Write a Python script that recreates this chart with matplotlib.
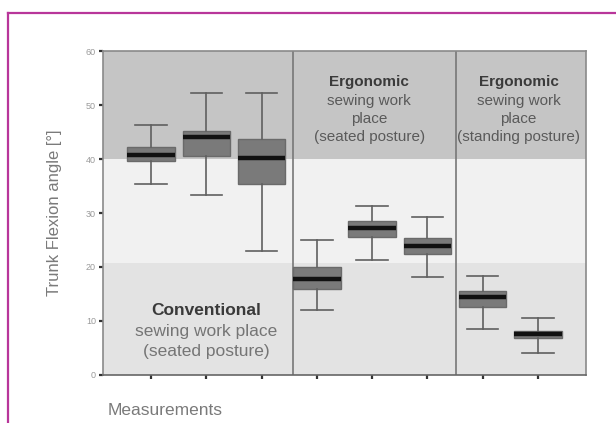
import matplotlib
matplotlib.use("Agg")
import matplotlib.pyplot as plt
from matplotlib.lines import Line2D

plt.rcParams['font.family'] = ['Liberation Sans', 'DejaVu Sans']

# Data
positions = [1, 2, 3, 4, 5, 6, 7, 8]
whisker_low = [35.4, 33.3, 23.0, 12.0, 21.3, 18.1, 8.5, 4.1]
q1 = [39.6, 40.6, 35.4, 15.9, 25.6, 22.4, 12.6, 6.8]
median = [40.7, 44.1, 40.2, 17.8, 27.2, 23.9, 14.4, 7.6]
q3 = [42.2, 45.2, 43.7, 20.0, 28.5, 25.4, 15.6, 8.1]
whisker_high = [46.3, 52.2, 52.2, 25.0, 31.3, 29.3, 18.3, 10.6]
y_ticks = [0, 10, 20, 30, 40, 50, 60]
bands = [(0, 20.8, '#e3e3e3'), (20.8, 40, '#f1f1f1'), (40, 60, '#c5c5c5')]
dividers = [3.57, 6.52]

fig = plt.figure(figsize=(6.16, 4.23), dpi=100)
ax = fig.add_axes([103/616, 1-375/423, (586-103)/616, (375-51)/423])

for lo, hi, c in bands:
    ax.axhspan(lo, hi, color=c, zorder=0, lw=0)
for d in dividers:
    ax.axvline(d, color='#777777', lw=1.2, zorder=1)

stats = []
for i in range(len(positions)):
    stats.append(dict(med=median[i], q1=q1[i], q3=q3[i],
                      whislo=whisker_low[i], whishi=whisker_high[i], fliers=[]))

ax.bxp(stats, positions=positions, widths=0.86, patch_artist=True,
       showfliers=False, manage_ticks=False,
       boxprops=dict(facecolor='#7a7a7a', edgecolor='#6a6a6a', lw=1),
       medianprops=dict(color='#111111', lw=3.2),
       whiskerprops=dict(color='#606060', lw=1.2),
       capprops=dict(color='#606060', lw=1.2),
       capwidths=0.57, zorder=3)

ax.set_xlim(0.13, 8.87)
ax.set_ylim(0, 60)
ax.set_yticks(y_ticks)
ax.set_yticklabels([str(t) for t in y_ticks], fontsize=6.5, color='#9a9a9a')
ax.set_xticks(positions)
ax.set_xticklabels([])
ax.tick_params(axis='both', direction='out', length=3, width=1.6, color='#333333', pad=2)

for s in ['left', 'right', 'top', 'bottom']:
    ax.spines[s].set_color('#8a8a8a')
    ax.spines[s].set_linewidth(1.2)
ax.spines['bottom'].set_color('#666666')

ax.set_ylabel('Trunk Flexion angle [°]', fontsize=12, color='#7a7a7a', labelpad=17)
fig.text(108/616, 1-410/423, 'Measurements', fontsize=12.5, color='#7a7a7a',
         ha='left', va='center')

# Section annotations
ax.text(2, 12.0, 'Conventional', fontsize=12.5, fontweight='bold', color='#3a3a3a',
        ha='center', va='center')
ax.text(2, 8.1, 'sewing work place', fontsize=12.5, color='#757575', ha='center', va='center')
ax.text(2, 4.4, '(seated posture)', fontsize=12.5, color='#757575', ha='center', va='center')

for xc, last in [(4.95, '(seated posture)'), (7.65, '(standing posture)')]:
    ax.text(xc, 54.3, 'Ergonomic', fontsize=11, fontweight='bold', color='#3a3a3a',
            ha='center', va='center')
    ax.text(xc, 50.7, 'sewing work', fontsize=11, color='#5a5a5a', ha='center', va='center')
    ax.text(xc, 47.4, 'place', fontsize=11, color='#5a5a5a', ha='center', va='center')
    ax.text(xc, 44.0, last, fontsize=11, color='#5a5a5a', ha='center', va='center')

# Magenta frame lines
fig.add_artist(Line2D([8/616, 1.0], [1-13/423, 1-13/423], transform=fig.transFigure,
                      color='#b8369a', lw=1.6))
fig.add_artist(Line2D([8/616, 8/616], [0.0, 1-13/423], transform=fig.transFigure,
                      color='#b8369a', lw=1.6))

fig.savefig('out.png', dpi=100)
